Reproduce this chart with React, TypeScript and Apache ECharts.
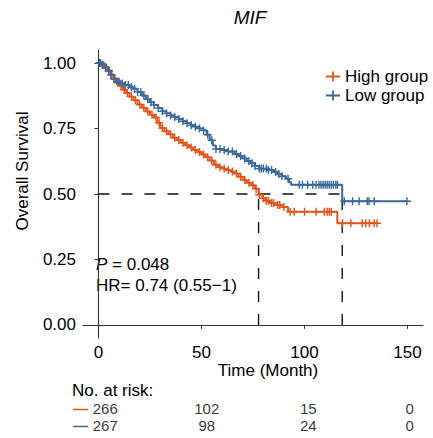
import React, { useEffect, useRef } from 'react';
import * as echarts from 'echarts';

const FONT = '"Liberation Sans", Arial, Helvetica, sans-serif';

const groups = ['High group', 'Low group'];
const groupColors = ['#E0561C', '#3A699B'];

// Kaplan-Meier steps: [time (month), survival after event]
const highEvents: [number, number][] = [
  [0, 1], [1.5, 0.992], [3, 0.981], [4.5, 0.97], [6, 0.955], [7.5, 0.938], [9, 0.925],
  [10.5, 0.912], [12, 0.898], [13.5, 0.886], [15, 0.872], [17, 0.858], [19, 0.842],
  [21, 0.829], [23, 0.815], [25, 0.803], [27, 0.792], [28.5, 0.772], [30, 0.752],
  [32, 0.74], [34, 0.728], [36, 0.715], [38, 0.706], [40, 0.696], [42, 0.686],
  [44, 0.678], [46, 0.668], [48, 0.66], [50, 0.651], [52, 0.64], [54, 0.628],
  [56, 0.612], [58, 0.602], [60, 0.597], [62, 0.592], [64, 0.586], [66, 0.578],
  [68, 0.566], [70, 0.553], [72, 0.543], [74, 0.533], [76, 0.52], [77.7, 0.497],
  [79.5, 0.484], [81, 0.474], [83, 0.466], [86, 0.458], [89, 0.45], [92, 0.432],
  [115.9, 0.388],
];
const lowEvents: [number, number][] = [
  [0, 1], [1.5, 0.994], [3, 0.985], [4.5, 0.972], [6, 0.955], [7.5, 0.94], [9, 0.93],
  [11, 0.922], [13, 0.916], [15, 0.908], [17, 0.902], [19, 0.89], [21, 0.876],
  [23, 0.862], [25, 0.85], [27, 0.84], [29, 0.828], [31, 0.816], [33, 0.808],
  [35, 0.8], [37, 0.794], [39, 0.786], [41, 0.778], [43, 0.77], [45, 0.763],
  [47, 0.757], [49, 0.75], [51, 0.743], [52.5, 0.726], [54, 0.705], [55.5, 0.685],
  [57, 0.672], [60, 0.668], [63, 0.662], [66, 0.653], [68, 0.645], [70, 0.636],
  [72, 0.626], [74, 0.617], [76, 0.607], [78, 0.597], [82, 0.592], [85, 0.584],
  [87, 0.576], [89, 0.568], [91, 0.558], [92.5, 0.545], [93.5, 0.535], [118.3, 0.472],
];
const highLastFollowUp = 135.2;
const lowLastFollowUp = 149.7;

// censoring times (month)
const highCensor = [
  1, 2.5, 3.5, 5, 6.5, 8, 9.5, 11, 12.5, 14, 16, 18, 20, 22, 24, 26, 28, 29.5, 31, 33,
  35, 37, 39, 41, 43, 45, 47, 49, 51, 53, 55, 57, 59, 61, 63, 65, 67, 69, 71, 73, 75,
  76.5, 78, 80, 81.5, 82.5, 84, 85, 87, 88, 90, 93, 95, 100, 105.6, 109.6, 111, 112,
  113, 118.4, 122.5, 128, 129.7, 131.5, 133.8, 135.2,
];
const lowCensor = [
  0.5, 1, 2, 3.5, 5, 6, 7.5, 9, 10, 11.5, 13, 14.5, 16, 17.5, 19, 20.5, 22, 24, 25.5,
  27, 29, 31, 33, 35, 37, 39, 41, 43, 45, 47, 49, 51, 53, 55, 57, 59, 61, 63, 65, 67,
  69, 71, 73, 74.4, 76, 78, 79, 80, 81.5, 82.5, 84, 86, 87.5, 89, 92, 97.5, 99, 101.5,
  104, 105.6, 107, 108, 109, 110, 111, 112, 113, 114, 115.2, 116, 119.3, 123.3, 126.5,
  130.5, 131.3, 133.8, 149.7,
];

const medianHigh = 77.7;
const medianLow = 118.3;
const medianLevel = 0.5;

const xTicks = [0, 50, 100, 150];
const yTicks = [0, 0.25, 0.5, 0.75, 1];

const riskTimes = [0, 50, 100, 150];
const riskHigh = [266, 102, 15, 0];
const riskLow = [267, 98, 24, 0];

const pValue = '0.048';
const hrText = 'HR= 0.74 (0.55\u22121)';

const PLUS = 'path://M4.1,0h1.8v4.1h4.1v1.8h-4.1v4.1h-1.8v-4.1h-4.1v-1.8h4.1z';
const LEGEND_ICON = 'path://M0,4.1h14v1.8h-14z M6.1,0h1.8v10h-1.8z';

function survivalAt(events: [number, number][], t: number) {
  let s = 1;
  for (const [et, es] of events) {
    if (et <= t) s = es;
    else break;
  }
  return s;
}

function stepData(events: [number, number][], end: number) {
  return [...events, [end, events[events.length - 1][1]]];
}

export default function App() {
  const ref = useRef<HTMLDivElement>(null);
  useEffect(() => {
    if (!ref.current) return;
    const chart = echarts.init(ref.current, null, { renderer: 'svg' });
    const axisColor = '#333333';
    const dashed = { color: '#111111', width: 1.4, type: [11, 12] as any };
    const curves = [
      { ev: highEvents, end: highLastFollowUp, cens: highCensor },
      { ev: lowEvents, end: lowLastFollowUp, cens: lowCensor },
    ];
    const series: any[] = [
      {
        type: 'line', name: 'median-h', xAxisIndex: 0, yAxisIndex: 0, symbol: 'none',
        data: [[0, medianLevel], [medianLow, medianLevel]], lineStyle: dashed, silent: true, z: 1,
      },
      {
        type: 'line', name: 'median-v1', symbol: 'none',
        data: [[medianHigh, 0], [medianHigh, medianLevel]], lineStyle: dashed, silent: true, z: 1,
      },
      {
        type: 'line', name: 'median-v2', symbol: 'none',
        data: [[medianLow, 0], [medianLow, medianLevel]], lineStyle: dashed, silent: true, z: 1,
      },
    ];
    curves.forEach((c, i) => {
      series.push({
        type: 'line', name: groups[i], step: 'end', symbol: 'none',
        data: stepData(c.ev, c.end),
        lineStyle: { color: groupColors[i], width: 2 },
        itemStyle: { color: groupColors[i] }, z: 2,
      });
      series.push({
        type: 'scatter', name: groups[i] + ' censor', symbol: PLUS, symbolSize: 8,
        data: c.cens.map((t) => [t, survivalAt(c.ev, t)]),
        itemStyle: { color: groupColors[i], opacity: 1 }, z: 3,
      });
    });
    const riskSets = [riskHigh, riskLow];
    riskSets.forEach((rs, i) => {
      series.push({
        type: 'scatter', xAxisIndex: 1, yAxisIndex: 1, symbolSize: 1,
        itemStyle: { color: 'rgba(0,0,0,0)' },
        data: riskTimes.map((t, k) => [t, groups[i], rs[k]]),
        label: {
          show: true, position: 'inside', formatter: (p: any) => String(p.value[2]),
          color: '#000', fontSize: 15, lineHeight: 14, fontFamily: FONT,
        },
      });
    });

    chart.setOption({
      animation: false,
      backgroundColor: '#ffffff',
      textStyle: { fontFamily: FONT },
      grid: [
        { left: 83, right: 10, top: 50, bottom: 100, outerBoundsMode: 'none' },
        { left: 90, right: 8, top: 400, height: 34, outerBoundsMode: 'none' },
      ],
      legend: {
        data: groups.map((g) => ({ name: g, icon: LEGEND_ICON })),
        orient: 'vertical', left: 321, top: 63, itemWidth: 14, itemHeight: 10, itemGap: 2,
        textStyle: { fontSize: 17, color: '#000', fontFamily: FONT, padding: [0, 0, 0, 0] },
        selectedMode: false,
      },
      xAxis: [
        {
          type: 'value', gridIndex: 0, min: -7.5, max: 157.5,
          splitLine: { show: false },
          axisLine: { show: true, lineStyle: { color: axisColor, width: 1.1 } },
          axisTick: { show: true, length: 4, customValues: xTicks, lineStyle: { color: axisColor, width: 1.1 } },
          axisLabel: { customValues: xTicks, color: '#000', fontSize: 17, margin: 6, fontFamily: FONT },
        },
        { type: 'value', gridIndex: 1, min: -7.5, max: 157.5, show: false },
      ],
      yAxis: [
        {
          type: 'value', gridIndex: 0, min: -0.05, max: 1.05,
          splitLine: { show: false },
          axisLine: { show: true, lineStyle: { color: axisColor, width: 1.1 } },
          axisTick: { show: true, length: 4, customValues: yTicks, lineStyle: { color: axisColor, width: 1.1 } },
          axisLabel: {
            customValues: yTicks, color: '#000', fontSize: 17, margin: 7, fontFamily: FONT,
            formatter: (v: number) => v.toFixed(2),
          },
        },
        {
          type: 'category', gridIndex: 1, data: groups, inverse: true,
          axisLine: { show: false }, axisTick: { show: false }, splitLine: { show: false },
          axisLabel: {
            interval: 0, hideOverlap: false,
            formatter: () => '\u2014', fontSize: 15, lineHeight: 10, margin: 2, fontWeight: 'bold',
            padding: [0, 0, 5, 0],
            color: (_v: any, idx: number) => groupColors[idx],
          },
        },
      ],
      graphic: [
        {
          type: 'text', x: 250, y: 17,
          style: { text: 'MIF', fontSize: 19, fontStyle: 'italic', fontFamily: FONT, fill: '#000', align: 'center', verticalAlign: 'middle' },
        },
        {
          type: 'text', x: 22, y: 171, rotation: Math.PI / 2,
          style: { text: 'Overall Survival', fontSize: 17, fontFamily: FONT, fill: '#000', align: 'center', verticalAlign: 'middle' },
        },
        {
          type: 'text', x: 268, y: 370,
          style: { text: 'Time (Month)', fontSize: 17, fontFamily: FONT, fill: '#000', align: 'center', verticalAlign: 'middle' },
        },
        {
          type: 'text', x: 96, y: 264,
          style: {
            text: '{i|P} = ' + pValue, fontSize: 17, fontFamily: FONT, fill: '#000', align: 'left', verticalAlign: 'middle',
            rich: { i: { fontStyle: 'italic', fontSize: 17, fontFamily: FONT, fill: '#000' } },
          },
        },
        {
          type: 'text', x: 96, y: 285,
          style: { text: hrText, fontSize: 17, fontFamily: FONT, fill: '#000', align: 'left', verticalAlign: 'middle' },
        },
        {
          type: 'text', x: 72, y: 390,
          style: { text: 'No. at risk:', fontSize: 17, fontFamily: FONT, fill: '#000', align: 'left', verticalAlign: 'middle' },
        },
      ],
      series,
    });
    return () => chart.dispose();
  }, []);
  return (
    <div
      ref={ref}
      style={{ position: 'absolute', left: 0, top: 0, width: 433, height: 438 }}
    />
  );
}
